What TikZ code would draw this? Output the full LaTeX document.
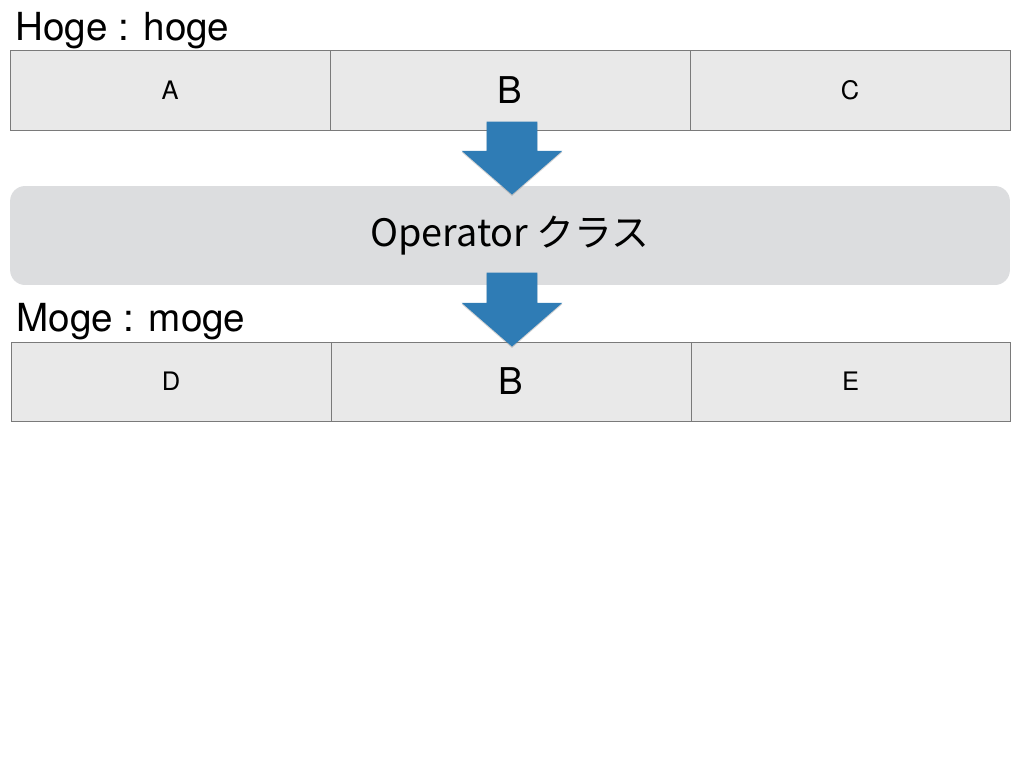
\documentclass[tikz,border=0pt]{standalone}
\usepackage{fontspec}
\setmainfont{TeX Gyre Heros}
\newfontfamily\jpfont{Noto Sans CJK JP}
\usetikzlibrary{shapes.arrows,shadows}
\definecolor{cellgray}{HTML}{E9E9E9}
\definecolor{linegray}{HTML}{7A7A7A}
\definecolor{opgray}{HTML}{DCDDDF}
\definecolor{arrowblue}{HTML}{2F7CB5}
\begin{document}
\begin{tikzpicture}[x=0.02cm, y=-0.02cm,
    cell/.style={draw=linegray, fill=cellgray, rectangle, inner sep=0pt, minimum height=1.6cm, font=\fontsize{14.5}{17}\selectfont},
    bigcell/.style={cell, font=\fontsize{21}{24}\selectfont},
    title/.style={anchor=base west, inner sep=0pt, font=\fontsize{22}{26}\selectfont},
    flow/.style={single arrow, fill=arrowblue, draw=none, shape border rotate=270, inner sep=0.5cm,
      single arrow head extend=0.5cm, single arrow tip angle=98, anchor=tip,
      drop shadow={opacity=0.35, shadow xshift=0pt, shadow yshift=-0.8pt}}]
    \useasboundingbox (0, 0) rectangle (1024, 768);

    % upper row
    \node[title] (hoge) at (15, 40) {Hoge : hoge};
    \node[cell, minimum width=6.4cm] (a) at (170, 90) {A};
    \node[bigcell, minimum width=7.2cm] (b1) at (510, 90) {B};
    \node[cell, minimum width=6.4cm] (c) at (850, 90) {C};

    % operator
    \node[fill=opgray, rounded corners=0.3cm, minimum width=20cm, minimum height=1.98cm, inner sep=0pt,
      font=\jpfont\fontsize{21.5}{25}\selectfont] (op) at (510, 235.5) {Operator クラス};

    % lower row
    \node[title] (moge) at (16, 331) {Moge : moge};
    \node[cell, minimum width=6.4cm, minimum height=1.58cm] (d) at (171, 381.5) {D};
    \node[bigcell, minimum width=7.2cm, minimum height=1.58cm] (b2) at (511, 381.5) {B};
    \node[cell, minimum width=6.38cm, minimum height=1.58cm] (e) at (850.5, 381.5) {E};

    % arrows
    \node[flow, minimum height=1.46cm] (in) at (512, 195) {};
    \node[flow, minimum height=1.48cm] (out) at (512, 347) {};
  \end{tikzpicture}
\end{document}
